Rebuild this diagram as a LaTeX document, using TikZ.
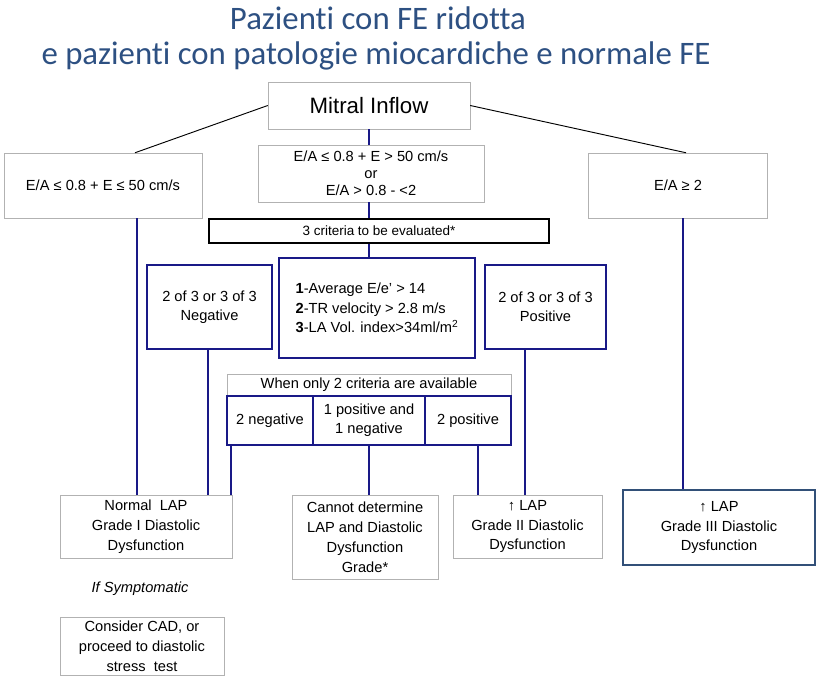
\documentclass[tikz,border=0pt]{standalone}
\usepackage{fontspec}
\setmainfont{Liberation Sans}
\newfontfamily\titlefont[Ligatures=NoCommon]{Carlito}
\usetikzlibrary{calc}
\definecolor{navy}{RGB}{25,25,135}
\definecolor{steel}{RGB}{50,80,120}
\definecolor{titleblue}{RGB}{45,80,130}

\begin{document}
\begin{tikzpicture}[x=0.03cm,y=-0.03cm,
    box/.style={draw=gray!60, fill=white, align=center, inner sep=1pt, font=\fontsize{12.5}{17}\selectfont},
    crit/.style={draw=navy, line width=2.2pt, fill=white, align=center, inner sep=1pt, font=\fontsize{12.5}{16.5}\selectfont},
    link/.style={navy, line width=1pt}]
        \useasboundingbox (0,0) rectangle (823,682);

        % Title
        \node[titleblue, font=\titlefont\fontsize{28}{32}\selectfont] (t1) at (378,18) {Pazienti con FE ridotta};
        \node[titleblue, font=\titlefont\fontsize{28}{32}\selectfont] (t2) at (376,56) {e pazienti con patologie miocardiche e normale FE};

        % Top level
        \node[box, minimum width=202*0.03cm, minimum height=47*0.03cm, font=\fontsize{19}{22}\selectfont] (mitral) at (369,105.5) {Mitral Inflow};
        \node[box, minimum width=198*0.03cm, minimum height=65*0.03cm] (low) at (103,185.5) {E/A ≤ 0.8 + E ≤ 50 cm/s};
        \node[box, minimum width=226*0.03cm, minimum height=57*0.03cm, font=\fontsize{12.5}{14.5}\selectfont] (mid) at (371,173.5) {E/A ≤ 0.8 + E > 50 cm/s\\or\\E/A > 0.8 - <2};
        \node[box, minimum width=179*0.03cm, minimum height=65*0.03cm] (high) at (678,185.5) {E/A ≥ 2};

        % Criteria
        \node[draw=black, line width=2.2pt, fill=white, minimum width=340*0.03cm, minimum height=24*0.03cm, inner sep=0pt, font=\fontsize{11.5}{13}\selectfont] (three) at (379,231) {3 criteria to be evaluated*};
        \node[crit, minimum width=125*0.03cm, minimum height=84*0.03cm] (neg) at (209.5,307) {2 of 3 or 3 of 3\\Negative};
        \node[crit, minimum width=196*0.03cm, minimum height=100*0.03cm, align=left] (list) at (377,308) {\textbf{1}-Average E/e' > 14\\\textbf{2}-TR velocity > 2.8 m/s\\\textbf{3}-LA Vol. index>34ml/m\textsuperscript{2}};
        \node[crit, minimum width=121*0.03cm, minimum height=84*0.03cm] (pos) at (545.5,307) {2 of 3 or 3 of 3\\Positive};

        % Two criteria
        \node[box, minimum width=284*0.03cm, minimum height=22*0.03cm, inner sep=0pt] (two) at (369,385) {When only 2 criteria are available};
        \node[crit, minimum width=86*0.03cm, minimum height=49*0.03cm] (twoneg) at (270,420.5) {2 negative};
        \node[crit, minimum width=112*0.03cm, minimum height=49*0.03cm] (mixed) at (369,420.5) {1 positive and\\1 negative};
        \node[crit, minimum width=86*0.03cm, minimum height=49*0.03cm] (twopos) at (468,420.5) {2 positive};

        % Outcomes
        \node[box, minimum width=172*0.03cm, minimum height=63*0.03cm] (grade1) at (146,526.5) {Normal~ LAP\\Grade I Diastolic\\Dysfunction};
        \node[box, minimum width=146*0.03cm, minimum height=84*0.03cm] (unknown) at (365,537) {Cannot determine\\LAP and Diastolic\\Dysfunction\\Grade*};
        \node[box, minimum width=149*0.03cm, minimum height=63*0.03cm] (grade2) at (527.5,526.5) {↑ LAP\\Grade II Diastolic\\Dysfunction};
        \node[box, draw=steel, line width=1.6pt, minimum width=192*0.03cm, minimum height=75*0.03cm] (grade3) at (719,527.5) {↑ LAP\\Grade III Diastolic\\Dysfunction};
        \node[font=\itshape\fontsize{12.5}{15}\selectfont] (symp) at (140,589) {If Symptomatic};
        \node[box, minimum width=164*0.03cm, minimum height=58*0.03cm] (cad) at (142,646) {Consider CAD, or\\proceed to diastolic\\stress~ test};

        % Connectors
        \draw[thick] (mitral.west) -- (low.north -| 135,0);
        \draw[thick] (mitral.east) -- (high.north -| 686,0);
        \draw[link] (mitral.south -| 369,0) -- (mid.north -| 369,0);
        \draw[link] (mid.south -| 369,0) -- (three.north -| 369,0);
        \draw[link] (three.south -| 369,0) -- (list.north -| 369,0);
        \draw[link] (low.south -| 137,0) -- (grade1.north -| 137,0);
        \draw[link] (high.south -| 683,0) -- (grade3.north -| 683,0);
        \draw[link] (neg.south -| 208,0) -- (grade1.north -| 208,0);
        \draw[link] (twoneg.south -| 231,0) -- (grade1.north -| 231,0);
        \draw[link] (mixed.south -| 369,0) -- (unknown.north -| 369,0);
        \draw[link] (twopos.south -| 478,0) -- (grade2.north -| 478,0);
        \draw[link] (pos.south -| 525,0) -- (grade2.north -| 525,0);
\end{tikzpicture}
\end{document}
